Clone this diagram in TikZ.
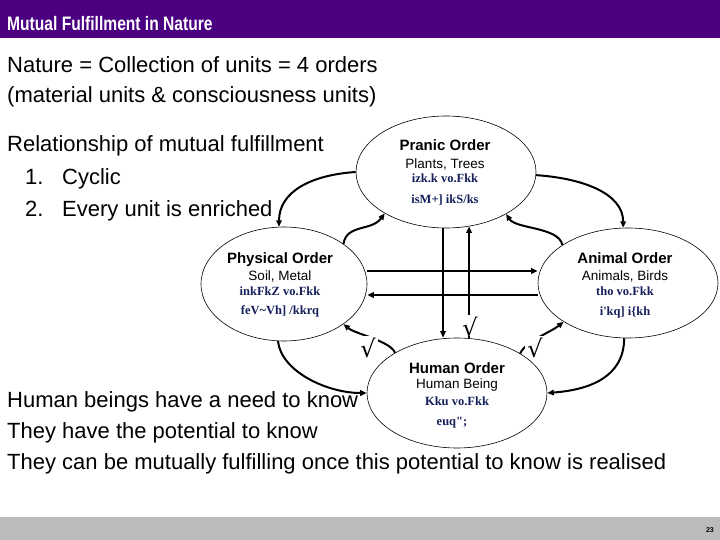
\documentclass[tikz,border=0pt]{standalone}
\usepackage{graphicx}
\usepackage{fontspec}
\setmainfont{Liberation Sans}
\newfontfamily\kdfont{Liberation Serif}
\newfontfamily\tickfont{DejaVu Sans}
\usetikzlibrary{shapes.geometric,arrows.meta,calc}
\definecolor{titlebar}{RGB}{75,0,130}
\definecolor{footbar}{RGB}{187,187,187}
\definecolor{hinditext}{RGB}{20,30,90}
\begin{document}
\begin{tikzpicture}[x=1pt,y=-1pt,
  order/.style={draw,ellipse,line width=0.6pt,inner sep=0pt},
  otitle/.style={font=\fontsize{15}{15}\selectfont\bfseries,anchor=base,inner sep=0pt},
  osub/.style={font=\fontsize{13.5}{13.5}\selectfont,anchor=base,inner sep=0pt},
  ohindi/.style={font=\kdfont\bfseries\fontsize{12.5}{12.5}\selectfont,text=hinditext,anchor=base,inner sep=0pt},
  body/.style={font=\fontsize{22}{22}\selectfont,anchor=base west,inner sep=0pt},
  conn/.style={line width=2pt,-{Triangle[length=6.5pt,width=5.5pt]}},
  tick/.style={font=\tickfont\fontsize{24}{24}\selectfont,fill=white,inner xsep=2pt,inner ysep=0pt,
    text height=21pt,text depth=0pt,anchor=base}
]
\useasboundingbox (0,0) rectangle (720,540);
\fill[titlebar] (0,0) rectangle (720,38);
\fill[footbar] (0,517) rectangle (720,540);
\node[anchor=base west,inner sep=0pt,text=white,font=\fontsize{19.5}{19.5}\selectfont\bfseries] (title) at (7,31) {\scalebox{0.8}[1]{Mutual Fulfillment in Nature}};
\node[anchor=base east,inner sep=0pt,font=\fontsize{7}{7}\selectfont\bfseries] (pageno) at (714,532) {23};

% text blocks
\node[body] (l1) at (7,73) {Nature = Collection of units = 4 orders};
\node[body] (l2) at (7,103) {(material units \& consciousness units)};
\node[body] (l3) at (7,152) {Relationship of mutual fulfillment};
\node[body] (l4n) at (25,185) {1.};
\node[body] (l4) at (62,185) {Cyclic};
\node[body] (l5n) at (25,216) {2.};
\node[body] (l5) at (62,216) {Every unit is enriched};
\node[body] (b1) at (7,407) {Human beings have a need to know};
\node[body] (b2) at (7,438) {They have the potential to know};
\node[body] (b3) at (7,469) {They can be mutually fulfilling once this potential to know is realised};

% orders
\node[order,minimum width=180pt,minimum height=112pt] (pranic) at (446,172) {};
\node[order,minimum width=166pt,minimum height=114pt] (physical) at (284,284) {};
\node[order,minimum width=180pt,minimum height=110pt] (animal) at (628,283) {};
\node[order,minimum width=180pt,minimum height=110pt] (human) at (457,393) {};

\node[otitle] (pt1) at (445,151) {Pranic Order};
\node[osub] (pt2) at (445,169) {Plants, Trees};
\node[ohindi] (pt3) at (445,183) {izk.k vo.Fkk};
\node[ohindi] (pt4) at (445,204) {isM+] ikS/ks};

\node[otitle] (ph1) at (280,263) {Physical Order};
\node[osub] (ph2) at (280,280) {Soil, Metal};
\node[ohindi] (ph3) at (280,295) {inkFkZ vo.Fkk};
\node[ohindi] (ph4) at (280,314) {feV\string~Vh] /kkrq};

\node[otitle] (an1) at (625,263) {Animal Order};
\node[osub] (an2) at (625,280) {Animals, Birds};
\node[ohindi] (an3) at (625,295) {tho vo.Fkk};
\node[ohindi] (an4) at (625,315) {i'kq] i\{kh};

\node[otitle] (hu1) at (457,373) {Human Order};
\node[osub] (hu2) at (457,388) {Human Being};
\node[ohindi] (hu3) at (457,405) {Kku vo.Fkk};
\node[ohindi] (hu4) at (452,425) {euq";};

% connectors
\draw[conn] (pranic.180) .. controls +(-45,3) and +(0,-35) .. (physical.95);
\draw[conn] (physical.34) .. controls +(3,-20) and +(-13,18) .. (pranic.214);
\draw[conn] (pranic.358) .. controls +(45,3) and +(0,-35) .. (animal.95);
\draw[conn] (animal.150) .. controls +(-3,-18) and +(10,15) .. (pranic.325);
\draw[conn] ($(physical.east)+(0,-13)$) -- ($(animal.west)+(0,-12)$);
\draw[conn] ($(animal.west)+(0,12)$) -- ($(physical.east)+(0,11)$);
\draw[conn] (pranic.267) -- (pranic.267 |- human.north);
\draw[conn] (pranic.293 |- human.north) -- (pranic.293);
\draw[conn] (physical.264) .. controls +(3,30) and +(-40,0) .. (human.180);
\draw[conn] (human.147) .. controls +(-5,-12) and +(12,10) .. (physical.326);
\draw[conn] (human.32) .. controls +(5,-12) and +(-12,10) .. (animal.211);
\draw[conn] (animal.266) .. controls +(0,40) and +(40,-3) .. (human.0);

% ticks
\node[tick] (tk1) at (368,357) {√};
\node[tick] (tk2) at (470,336) {√};
\node[tick] (tk3) at (535,357) {√};
\end{tikzpicture}
\end{document}
